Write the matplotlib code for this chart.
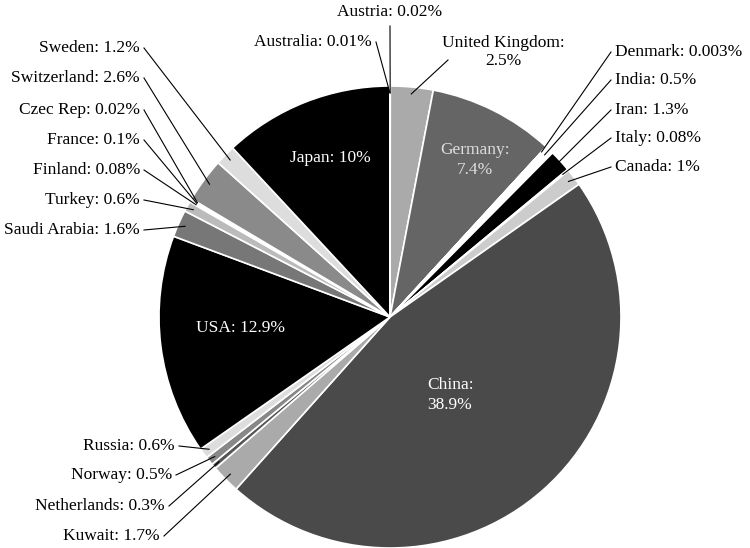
import matplotlib
matplotlib.use("Agg")
import matplotlib.pyplot as plt
import numpy as np

countries = ["Austria","United Kingdom","Germany","Denmark","India","Iran","Italy","Canada","China",
             "Kuwait","Netherlands","Norway","Russia","USA","Saudi Arabia","Turkey","Finland","France",
             "Czec Rep","Switzerland","Sweden","Japan","Australia"]
values = [0.02,2.5,7.4,0.003,0.5,1.3,0.08,1,38.9,1.7,0.3,0.5,0.6,12.9,1.6,0.6,0.08,0.1,0.02,2.6,1.2,10,0.01]
labels = ["0.02%","2.5%","7.4%","0.003%","0.5%","1.3%","0.08%","1%","38.9%","1.7%","0.3%","0.5%","0.6%",
          "12.9%","1.6%","0.6%","0.08%","0.1%","0.02%","2.6%","1.2%","10%","0.01%"]
colors = ["#bbbbbb","#aaaaaa","#656565","#333333","#ffffff","#000000","#888888","#cccccc","#4a4a4a",
          "#aaaaaa","#555555","#888888","#dddddd","#000000","#777777","#bbbbbb","#444444","#999999",
          "#333333","#8a8a8a","#dddddd","#000000","#888888"]

# layout: (x, y in pixels from top, ha, inside?)
layout = {
 "Austria":(390,12,"center",False), "United Kingdom":(503,52,"center",False),
 "Germany":(475,160,"center",True), "Denmark":(615,52,"left",False), "India":(615,80,"left",False),
 "Iran":(615,110,"left",False), "Italy":(615,138,"left",False), "Canada":(615,167,"left",False),
 "China":(450,395,"center",True), "Kuwait":(160,536,"right",False), "Netherlands":(165,506,"right",False),
 "Norway":(172,475,"right",False), "Russia":(175,446,"right",False), "USA":(240,328,"center",True),
 "Saudi Arabia":(140,230,"right",False), "Turkey":(140,200,"right",False), "Finland":(140,170,"right",False),
 "France":(140,140,"right",False), "Czec Rep":(140,110,"right",False), "Switzerland":(140,78,"right",False),
 "Sweden":(140,48,"right",False), "Japan":(330,158,"center",True), "Australia":(372,42,"right",False),
}

W, H = 750, 548
cx, cy, R = 390, 548-317, 231
plt.rcParams['font.family'] = ['Liberation Serif', 'DejaVu Serif']
fig = plt.figure(figsize=(7.5,5.48), dpi=100)
ax = fig.add_axes([0,0,1,1])
wedges, _ = ax.pie(values, colors=colors, startangle=90, counterclock=False, center=(cx,cy), radius=R,
                   wedgeprops=dict(edgecolor="white", linewidth=1.2), frame=True)
ax.set_xlim(0,W); ax.set_ylim(0,H); ax.axis('off')
ax.set_aspect('equal')

for w, c, lab in zip(wedges, countries, labels):
    x, y, ha, inside = layout[c]
    yy = H - y
    if inside:
        txt = f"{c}:\n{lab}" if c in ("Germany","China") else f"{c}: {lab}"
        col = "#dddddd" if c == "Germany" else "white"
        ax.text(x, yy, txt, ha="center", va="center", color=col, fontsize=12.5, linespacing=1.3)
        continue
    txt = "United Kingdom:\n2.5%" if c == "United Kingdom" else f"{c}: {lab}"
    ax.text(x, yy, txt, ha=ha, va="center", fontsize=12.5, linespacing=1.2)
    ang = np.deg2rad((w.theta1 + w.theta2) / 2)
    px, py = cx + R*0.97*np.cos(ang), cy + R*0.97*np.sin(ang)
    if ha == "left":
        sx, sy = x - 4, yy
    elif ha == "right":
        sx, sy = x + 4, yy
    else:
        sx, sy = x, yy - (14 if c == "Austria" else 26)
        if c == "United Kingdom":
            sx, sy = x - 55, yy - 8
    ax.plot([sx, px], [sy, py], color="black", lw=0.8)

fig.savefig("out.png", dpi=100, facecolor="white")
